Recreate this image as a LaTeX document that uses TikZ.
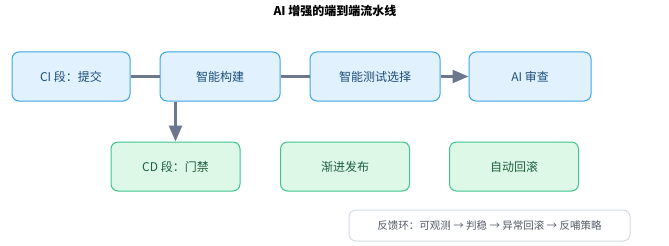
\documentclass[tikz,border=0pt]{standalone}
\usepackage{fontspec}
\setmainfont{Noto Sans CJK SC}
\usepackage{tikz}
\usetikzlibrary{arrows.meta,positioning,calc}
\definecolor{ciblue}{HTML}{3AA6E6}
\definecolor{cibg}{HTML}{E1F1FD}
\definecolor{citext}{HTML}{1D4E7A}
\definecolor{cdgreen}{HTML}{3CC48E}
\definecolor{cdbg}{HTML}{DDF8E7}
\definecolor{cdtext}{HTML}{1F5F3C}
\definecolor{edgegray}{HTML}{6B778C}
\definecolor{noteline}{HTML}{D5DCE6}
\definecolor{notetext}{HTML}{555B66}
\tikzset{
  cibox/.style={draw=ciblue,fill=cibg,line width=1pt,rounded corners=7pt,
                minimum height=49pt,inner sep=2pt,align=center,
                font=\fontsize{12}{14}\selectfont,text=citext},
  cdbox/.style={draw=cdgreen,fill=cdbg,line width=1pt,rounded corners=7pt,
                minimum width=129pt,minimum height=49pt,inner sep=2pt,align=center,
                font=\fontsize{12}{14}\selectfont,text=cdtext},
  notecard/.style={draw=noteline,fill=white,line width=1pt,rounded corners=7pt,
                   minimum width=281pt,minimum height=31pt,inner sep=2pt,
                   font=\fontsize{10.5}{12}\selectfont,text=notetext},
  flowline/.style={line width=2.5pt,color=edgegray},
  flowarr/.style={flowline,-{Triangle[length=16pt,width=13pt]}}
}
\begin{document}
\begin{tikzpicture}[x=1pt,y=-1pt]
  \useasboundingbox[fill=white] (0,0) rectangle (669,246);
  \node[font=\fontsize{12}{14}\selectfont\bfseries] (title) at (335,11) {AI 增强的端到端流水线};
  % CI stage
  \node[cibox,minimum width=118pt] (commit) at (71,76.5) {CI 段：提交};
  \node[cibox,minimum width=120pt] (build) at (220,76.5) {智能构建};
  \node[cibox,minimum width=130pt] (tests) at (375,76.5) {智能测试选择};
  \node[cibox,minimum width=122pt] (review) at (530,76.5) {AI 审查};
  % CD stage
  \node[cdbox] (gate) at (175.5,166.5) {CD 段：门禁};
  \node[cdbox] (rollout) at (345,166.5) {渐进发布};
  \node[cdbox] (rollback) at (514,166.5) {自动回滚};
  \node[notecard] (loop) at (489.5,225.5) {反馈环：可观测 → 判稳 → 异常回滚 → 反哺策略};
  % connectors
  \draw[flowline] (commit.east) -- (build.west);
  \draw[flowline] (build.east) -- (tests.west);
  \draw[flowarr] (tests.east) -- (review.west);
  \draw[flowarr] (gate.north |- build.south) -- (gate.north);
\end{tikzpicture}
\end{document}
